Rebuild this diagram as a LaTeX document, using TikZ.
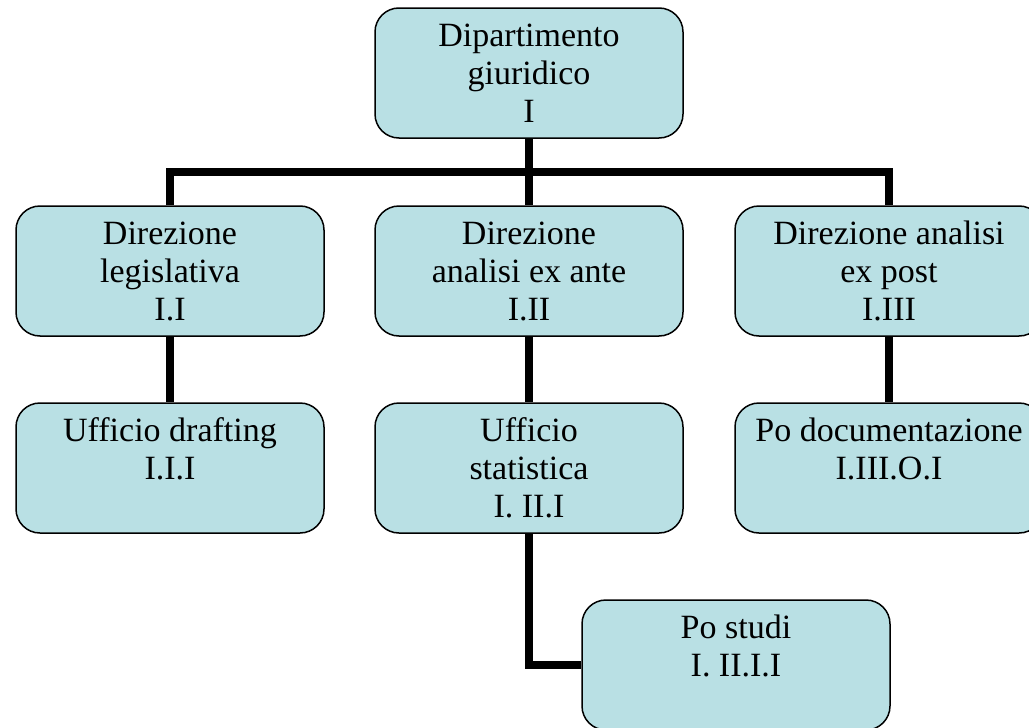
\documentclass[tikz,border=0pt]{standalone}
\usepackage{fontspec}
\setmainfont{Liberation Serif}
\definecolor{boxfill}{RGB}{185,224,228}
\tikzset{
  unit/.style={draw=black, line width=1.5pt, fill=boxfill, rounded corners=24pt,
    minimum width=308pt, minimum height=130pt, align=center, inner sep=0pt,
    font=\fontsize{34}{38}\selectfont},
  conn/.style={line width=8pt, black}
}
\begin{document}
\begin{tikzpicture}[x=1pt,y=-1pt]
      \useasboundingbox (0,0) rectangle (1029,728);
      \draw
        (529,73) node[unit] (dip){Dipartimento\\giuridico\\I}
        (170,271) node[unit] (dirleg){Direzione\\legislativa\\I.I}
        (529,271) node[unit] (dirante){Direzione\\analisi ex ante\\I.II}
        (889,271) node[unit] (dirpost){Direzione analisi\\ex post\\I.III}
        (170,468) node[unit] (udraft){Ufficio drafting\\I.I.I\\ \mbox{}}
        (529,468) node[unit] (ustat){Ufficio\\statistica\\I. II.I}
        (889,468) node[unit] (podoc){Po documentazione\\I.III.O.I\\ \mbox{}}
        (736,665) node[unit] (postudi){Po studi\\I. II.I.I\\ \mbox{}};
      \path (dip.south) -- (dirante.north) coordinate[midway] (bar);
      \begin{scope}[conn]
        \draw (dip) to (dirante);
        \draw (dirleg.north) |- (bar) -| (dirpost.north);
        \draw (dirleg) to (udraft);
        \draw (dirante) to (ustat);
        \draw (dirpost) to (podoc);
        \draw (ustat.south) |- (postudi.west);
      \end{scope}
    \end{tikzpicture}
\end{document}
